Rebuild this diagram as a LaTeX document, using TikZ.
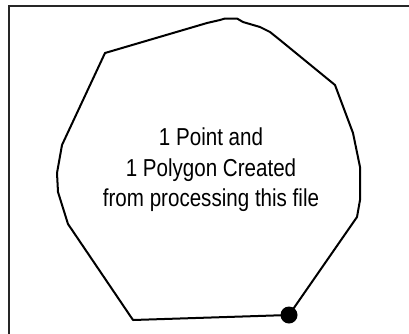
\documentclass[tikz,border=0pt]{standalone}
\usepackage{fontspec}
\setmainfont[FakeStretch=0.84]{Liberation Sans}
\begin{document}
\begin{tikzpicture}[x=1pt,y=-1pt,
  frameline/.style={line width=2.6pt,draw=black!85},
  polyline/.style={line width=2pt,line join=round},
  ptdot/.style={circle,fill=black,inner sep=0pt,minimum size=17pt}]
\useasboundingbox (0,0) rectangle (409,333);
\draw[frameline] (9,340) -- (9,6) -- (415,6);
\draw[polyline] (289,315) -- (133,320) -- (68,224) -- (58,192) -- (57,173) -- (62,145) -- (105,53)
  -- (207,23) -- (220,20) -- (225,18.5) -- (237,18.5) -- (243,22) -- (260,27) -- (270,32) -- (280,40)
  -- (335,85) -- (353,133) -- (360,167) -- (360,200) -- (357,217) -- cycle;
\node[ptdot] (pt) at (289,315) {};
\node[font=\fontsize{24.5}{30.5}\selectfont,align=center] (lbl) at (211,170)
  {1 Point and\\1 Polygon Created\\from processing this file};
\end{tikzpicture}
\end{document}
